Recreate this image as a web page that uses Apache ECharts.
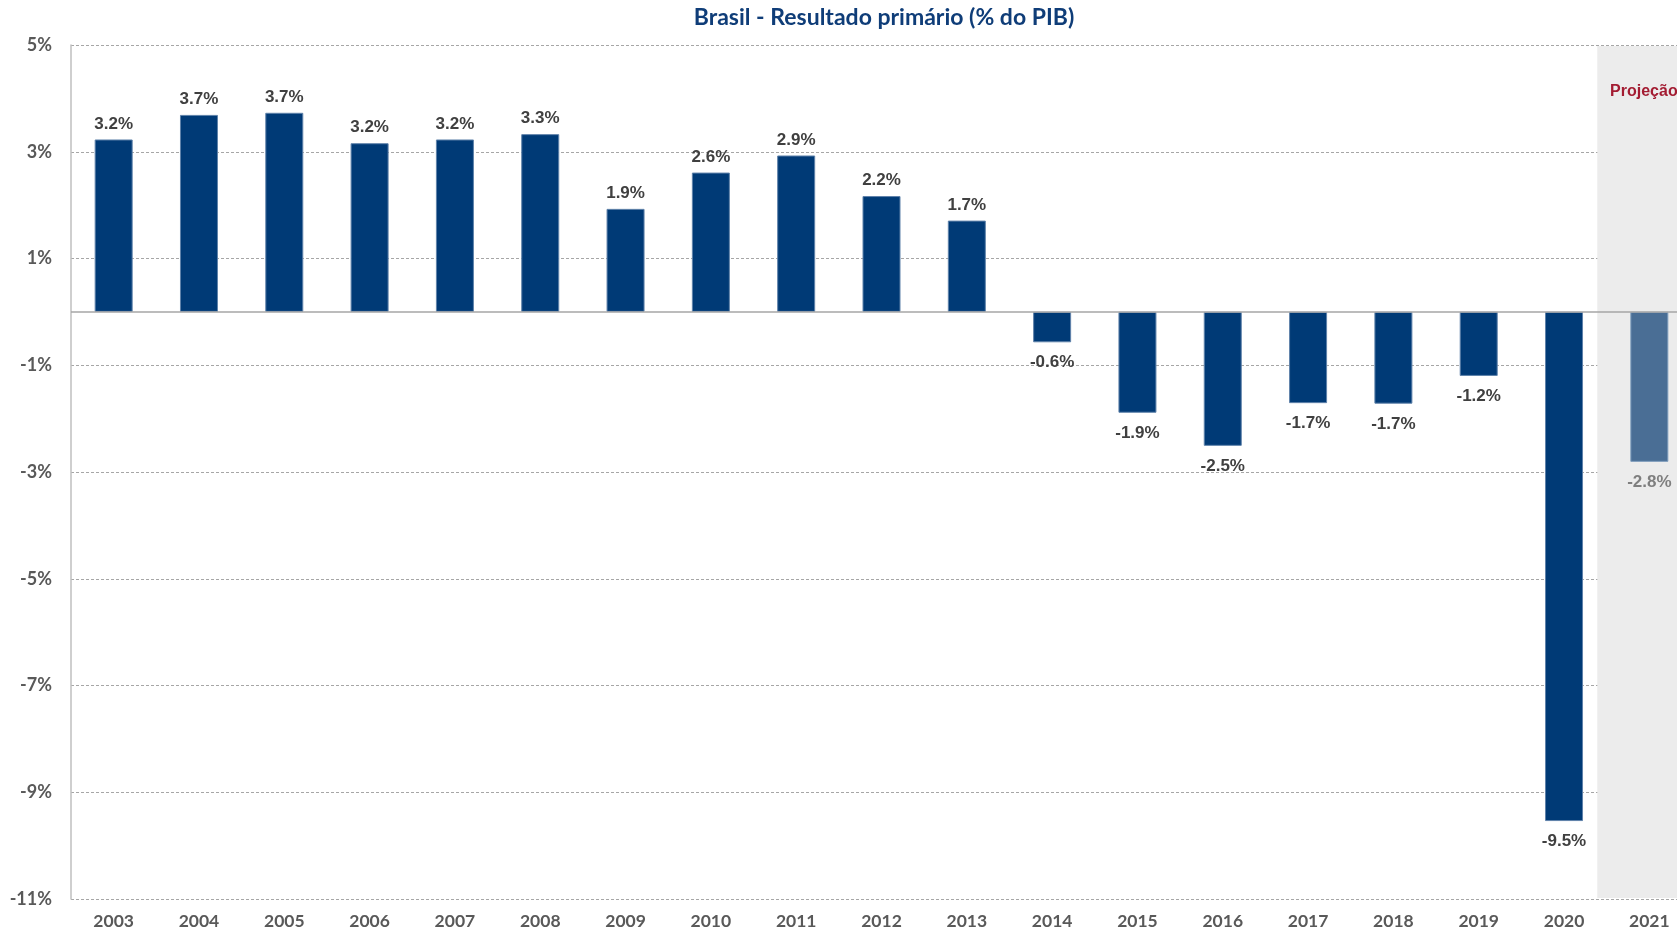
<!DOCTYPE html>
<html>
<head>
<meta charset="utf-8">
<script src="https://cdn.jsdelivr.net/npm/echarts@6/dist/echarts.min.js"></script>
<style>
html,body{margin:0;padding:0;background:#fff;overflow:hidden;width:1677px;height:930px;}
#chart{width:1692px;height:930px;}
</style>
</head>
<body>
<div id="chart"></div>
<script>
const titleText = 'Brasil - Resultado primário (% do PIB)';
const years = ['2003','2004','2005','2006','2007','2008','2009','2010','2011','2012','2013','2014','2015','2016','2017','2018','2019','2020','2021'];
const primaryResult = [3.23, 3.69, 3.73, 3.16, 3.23, 3.33, 1.93, 2.61, 2.93, 2.17, 1.71, -0.57, -1.89, -2.51, -1.71, -1.72, -1.20, -9.54, -2.81];
const projectionYears = ['2021'];
const projectionLabel = 'Projeção';
const yMin = -11, yMax = 5, yStep = 2;

const barData = years.map((y, i) => {
  const proj = projectionYears.includes(y);
  const v = primaryResult[i];
  return {
    value: v,
    itemStyle: proj ? {color: '#4a6e95', borderColor: '#7d9bbb'} : undefined,
    label: {
      position: v >= 0 ? 'top' : 'bottom',
      distance: v >= 0 ? 7 : 12,
      color: proj ? '#7f7f7f' : '#404040'
    }
  };
});

const chart = echarts.init(document.getElementById('chart'), null, {renderer: 'canvas'});
chart.setOption({
  animation: false,
  backgroundColor: '#ffffff',
  title: {
    text: titleText,
    left: 879, top: 1, textAlign: 'center',
    textStyle: {fontFamily: 'Lato', fontWeight: 'bold', fontSize: 23, color: '#0f3d78'}
  },
  grid: {left: 71, right: 0, top: 45, bottom: 30, containLabel: false},
  xAxis: {
    type: 'category', data: years, boundaryGap: true,
    axisLine: {show: false, onZero: false},
    axisTick: {show: false},
    axisLabel: {fontFamily: 'Lato', fontWeight: 'bold', fontSize: 17.5, color: '#595959', margin: 13}
  },
  yAxis: {
    type: 'value', min: yMin, max: yMax, interval: yStep,
    axisLine: {show: true, lineStyle: {color: '#bfbfbf', width: 1.5}},
    axisTick: {show: false},
    splitLine: {show: true, lineStyle: {color: '#a6a6a6', type: [3, 2], width: 1}},
    axisLabel: {formatter: '{value}%', fontFamily: 'Lato', fontWeight: 'bold', fontSize: 18, color: '#595959', margin: 19}
  },
  series: [
    {
      type: 'custom',
      z: 0,
      silent: true,
      data: projectionYears.map(y => [y, yMax]),
      renderItem: function (params, api) {
        const cs = params.coordSys;
        const c = api.coord([api.value(0), api.value(1)]);
        const band = api.size([1, 0])[0];
        const x0 = c[0] - band * 0.61;
        return {
          type: 'group',
          children: [
            {type: 'rect', shape: {x: x0, y: cs.y + 1, width: cs.x + cs.width - x0, height: cs.height - 2},
             style: {fill: '#ececec'}, z2: 0},
            {type: 'text', x: c[0] - band * 0.46, y: cs.y + 47,
             style: {text: projectionLabel, fill: '#a31c32', font: 'bold 16px "Liberation Sans", Arial, sans-serif', verticalAlign: 'middle', align: 'left'}, z2: 1}
          ]
        };
      }
    },
    {
      type: 'bar',
      z: 2,
      data: barData,
      barWidth: 38,
      itemStyle: {color: '#003a76', borderColor: '#5f82aa', borderWidth: 1},
      label: {
        show: true,
        formatter: p => p.value.toFixed(1) + '%',
        fontFamily: '"Liberation Sans", Arial, sans-serif',
        fontWeight: 'bold', fontSize: 17
      },
      markLine: {
        silent: true, symbol: 'none',
        label: {show: false},
        lineStyle: {color: '#a6a6a6', type: 'solid', width: 1.5},
        data: [{yAxis: 0}]
      }
    }
  ]
});
</script>
</body>
</html>
